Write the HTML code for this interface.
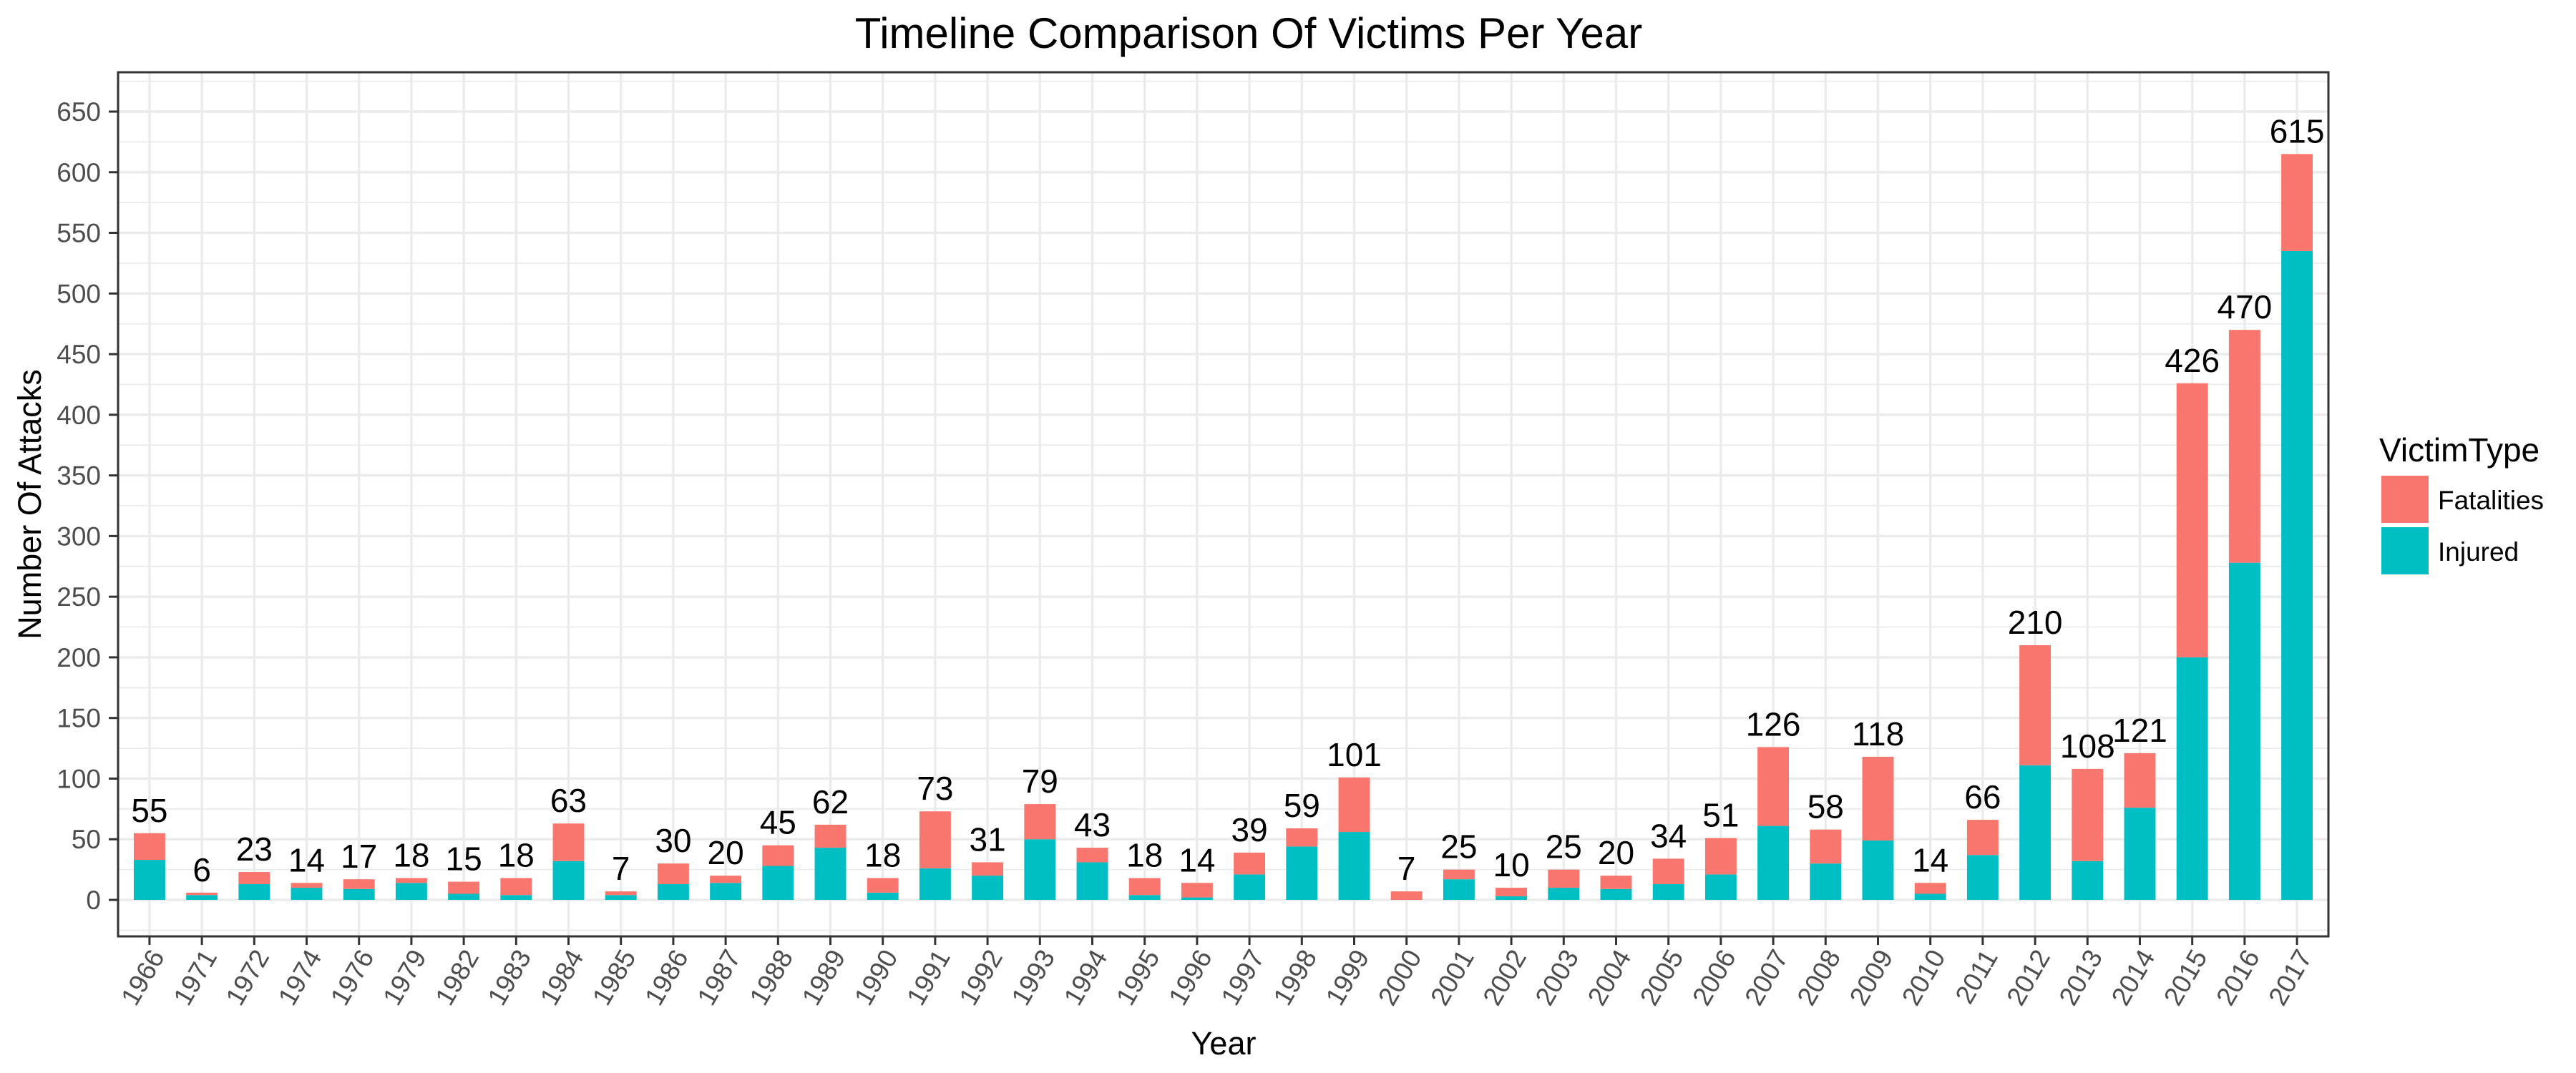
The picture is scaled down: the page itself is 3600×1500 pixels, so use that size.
<!DOCTYPE html>
<html><head><meta charset="utf-8"><style>
html,body{margin:0;padding:0;background:#fff;}
svg{display:block;font-family:"Liberation Sans",Arial,sans-serif;}
</style></head><body>
<svg id="chart" width="3600" height="1500" viewBox="0 0 3600 1500" xmlns="http://www.w3.org/2000/svg">
<rect width="3600" height="1500" fill="#fff"/>
<text x="1745" y="67" text-anchor="middle" font-size="60" fill="#000">Timeline Comparison Of Victims Per Year</text>
<g id="grid"></g>
<g id="bars"></g>
<g id="labels"></g>
<rect x="165" y="101" width="3089" height="1208" fill="none" stroke="#333" stroke-width="3"/>
<g id="axes"></g>
<text transform="translate(57,705) rotate(-90)" text-anchor="middle" font-size="45" fill="#000">Number Of Attacks</text>
<text x="1710" y="1474" text-anchor="middle" font-size="45" fill="#000">Year</text>
<g>
<text x="3325" y="645" font-size="46" fill="#000">VictimType</text>
<rect x="3328" y="665" width="66" height="66" fill="#F8766D"/>
<text x="3407" y="712" font-size="37" fill="#000">Fatalities</text>
<rect x="3328" y="737" width="66" height="66" fill="#00BFC4"/>
<text x="3407" y="784" font-size="37" fill="#000">Injured</text>
</g>
</svg>
<script>
const years = ["1966","1971","1972","1974","1976","1979","1982","1983","1984","1985","1986","1987","1988","1989","1990","1991","1992","1993","1994","1995","1996","1997","1998","1999","2000","2001","2002","2003","2004","2005","2006","2007","2008","2009","2010","2011","2012","2013","2014","2015","2016","2017"];
const totals = [55,6,23,14,17,18,15,18,63,7,30,20,45,62,18,73,31,79,43,18,14,39,59,101,7,25,10,25,20,34,51,126,58,118,14,66,210,108,121,426,470,615];
const injured = [33,4,13,10,9,14,5,4,32,4,13,14,28,43,6,26,20,50,31,4,2,21,44,56,0,17,3,10,9,13,21,61,30,49,5,37,111,32,76,200,278,535];
const yTicks = [0,50,100,150,200,250,300,350,400,450,500,550,600,650];

const NS = "http://www.w3.org/2000/svg";
const PL = 165, PR = 3254, PT = 101, PB = 1309;
const Y0 = 1258, YPER = 1.6954;
function yScale(v){ return Y0 - v * YPER; }
const step = (PR - PL) / (years.length - 1 + 1.2);
function xScale(i){ return PL + step * (0.6 + i); }
const bw = step * 0.6;

function mk(tag, attrs, parent){
  const e = document.createElementNS(NS, tag);
  for (const k in attrs) e.setAttribute(k, attrs[k]);
  parent.appendChild(e);
  return e;
}
const grid = document.getElementById('grid');
const bars = document.getElementById('bars');
const labels = document.getElementById('labels');
const axes = document.getElementById('axes');

for (let v = -25; v <= 675; v += 50) {
  const y = yScale(v);
  if (y < PT || y > PB) continue;
  const l = mk('line', {x1: PL, x2: PR, y1: y, y2: y, stroke: '#ebebeb', 'stroke-width': 1.8}, grid);
  
  
}
yTicks.forEach(v => {
  const y = yScale(v);
  const l = mk('line', {x1: PL, x2: PR, y1: y, y2: y, stroke: '#ebebeb', 'stroke-width': 3.4}, grid);
  
  
  const t = mk('line', {x1: 152, x2: PL, y1: y, y2: y, stroke: '#333', 'stroke-width': 3}, axes);
  
  
  const tx = mk('text', {x: 141, y: y + 13, 'text-anchor': 'end', 'font-size': 37, fill: '#4d4d4d'}, axes);
  tx.textContent = v;
  
  
});
years.forEach((yr, i) => {
  const x = xScale(i);
  const g = mk('line', {x1: x, x2: x, y1: PT, y2: PB, stroke: '#ebebeb', 'stroke-width': 3.4}, grid);
  
  
  const inj = injured[i], tot = totals[i];
  const rt = mk('rect', {x: x - bw/2, y: yScale(inj), width: bw, height: yScale(0) - yScale(inj), fill: '#00BFC4'}, bars);
  
  
  const rf = mk('rect', {x: x - bw/2, y: yScale(tot), width: bw, height: yScale(inj) - yScale(tot), fill: '#F8766D'}, bars);
  
  
  const lb = mk('text', {x: x, y: yScale(tot) - 16, 'text-anchor': 'middle', 'font-size': 46, fill: '#000'}, labels);
  lb.textContent = tot;
  
  
  const tk = mk('line', {x1: x, x2: x, y1: PB, y2: PB + 12, stroke: '#333', 'stroke-width': 3}, axes);
  
  
  const xt = mk('text', {transform: 'translate(' + (x + 22) + ',' + (PB + 28) + ') rotate(-60)', 'text-anchor': 'end', 'font-size': 37, fill: '#4d4d4d'}, axes);
  xt.textContent = yr;
  
  
});
</script>
</body></html>
